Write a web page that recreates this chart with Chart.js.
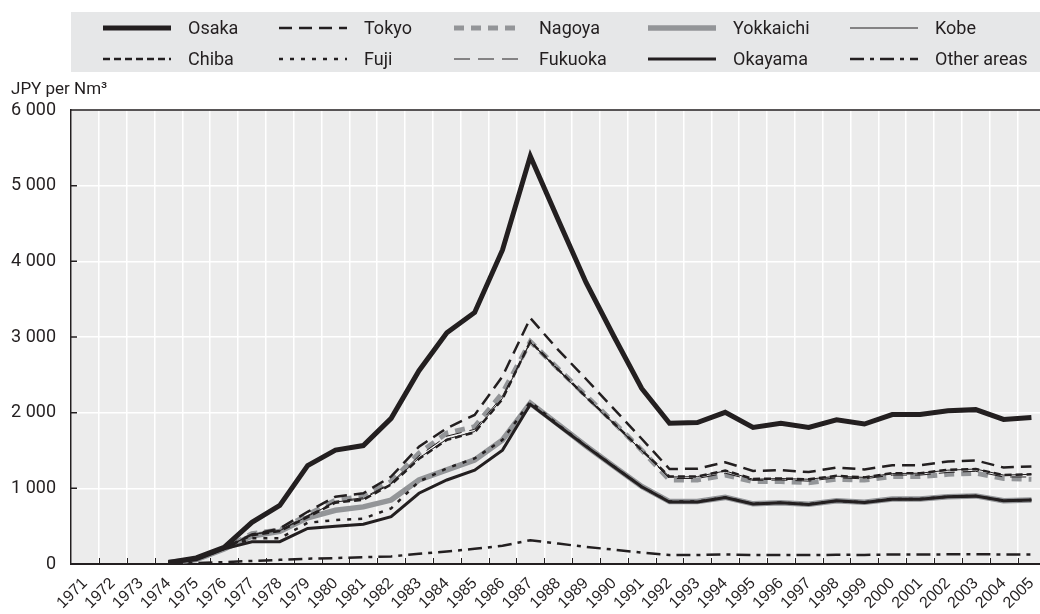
<!DOCTYPE html>
<html>
<head>
<meta charset="utf-8">
<script src="https://cdn.jsdelivr.net/npm/chart.js@4.4.0/dist/chart.umd.min.js"></script>
<style>
  html, body { margin: 0; padding: 0; background: #fff; }
  #wrap { width: 1040px; height: 614px; overflow: hidden; }
</style>
</head>
<body>
<div id="wrap"><canvas id="gasChart" width="1055" height="614"></canvas></div>
<script>
// Categorías (años) y series
const years = ['1971', '1972', '1973', '1974', '1975', '1976', '1977', '1978', '1979', '1980',
    '1981', '1982', '1983', '1984', '1985', '1986', '1987', '1988', '1989', '1990',
    '1991', '1992', '1993', '1994', '1995', '1996', '1997', '1998', '1999', '2000',
    '2001', '2002', '2003', '2004', '2005'];

const osaka = [null, null, null, 20, 80, 220, 550, 775, 1300, 1505, 1565, 1925, 2555, 3055, 3325, 4150, 5390,
    4550, 3720, 3010, 2320, 1860, 1870, 2005, 1805, 1860, 1805, 1905, 1850, 1975, 1975, 2025, 2040, 1910, 1935];
const tokyo = [null, null, null, 20, 70, 210, 390, 470, 690, 890, 935, 1155, 1550, 1795, 1970, 2480, 3250,
    2830, 2445, 2050, 1655, 1255, 1260, 1345, 1230, 1240, 1215, 1275, 1250, 1305, 1305, 1355, 1370, 1275, 1290];
const nagoya = [null, null, null, 20, 60, 205, 400, 450, 650, 845, 890, 1090, 1465, 1730, 1815, 2260, 2940,
    2580, 2225, 1870, 1505, 1110, 1110, 1175, 1090, 1090, 1075, 1120, 1110, 1155, 1155, 1185, 1200, 1130, 1120];
const yokkaichi = [null, null, null, 20, 60, 200, 370, 430, 610, 710, 755, 845, 1110, 1245, 1375, 1640, 2125,
    1845, 1560, 1290, 1025, 825, 825, 880, 795, 810, 790, 835, 815, 860, 860, 890, 900, 835, 845];
const kobe = [null, null, null, 20, 60, 205, 390, 440, 630, 820, 860, 1060, 1400, 1650, 1750, 2190, 2930,
    2560, 2200, 1850, 1500, 1150, 1155, 1230, 1120, 1130, 1120, 1160, 1145, 1195, 1200, 1240, 1255, 1175, 1185];
const chiba = [null, null, null, 20, 65, 210, 380, 435, 620, 810, 850, 1050, 1390, 1640, 1740, 2180, 2940,
    2570, 2210, 1860, 1505, 1155, 1155, 1235, 1125, 1130, 1120, 1165, 1145, 1200, 1200, 1245, 1255, 1175, 1185];
const fuji = [null, null, null, 20, 60, 200, 340, 340, 545, 580, 600, 735, 1090, 1265, 1395, 1640, 2145,
    1840, 1560, 1290, 1020, 825, 825, 880, 795, 810, 790, 835, 815, 860, 860, 890, 900, 835, 845];
const fukuoka = [null, null, null, 20, 60, 205, 395, 445, 640, 830, 875, 1070, 1430, 1690, 1780, 2220, 2935,
    2575, 2215, 1860, 1500, 1130, 1130, 1200, 1105, 1110, 1095, 1140, 1125, 1175, 1175, 1210, 1225, 1150, 1150];
const okayama = [null, null, null, 15, 55, 200, 295, 295, 470, 500, 525, 625, 935, 1110, 1240, 1505, 2110,
    1830, 1555, 1285, 1020, 820, 820, 878, 792, 808, 788, 835, 813, 857, 857, 888, 897, 835, 845];
const otherAreas = [null, null, null, 5, 12, 25, 40, 55, 70, 78, 90, 100, 135, 165, 200, 240, 315,
    270, 225, 190, 150, 120, 120, 125, 120, 118, 118, 122, 120, 125, 125, 128, 130, 125, 125];

const yTicks = [0, 1000, 2000, 3000, 4000, 5000, 6000];

const FONT = "Roboto, 'Liberation Sans', sans-serif";
const INK = '#231f20';
const GREY = '#939598';

function serie(label, data, color, width, dash, order) {
    return {
        label: label,
        data: data,
        borderColor: color,
        borderWidth: width,
        borderDash: dash,
        order: order,
        pointRadius: 0,
        tension: 0,
        fill: false
    };
}

const datasets = [
    serie('Osaka', osaka, INK, 5, [], 0),
    serie('Tokyo', tokyo, INK, 2.5, [13, 7], 1),
    serie('Nagoya', nagoya, GREY, 5, [10, 7], 9),
    serie('Yokkaichi', yokkaichi, GREY, 5.5, [], 8),
    serie('Kobe', kobe, INK, 1, [], 5),
    serie('Chiba', chiba, INK, 2.5, [7, 4], 2),
    serie('Fuji', fuji, INK, 2.5, [4, 7], 4),
    serie('Fukuoka', fukuoka, INK, 1, [16, 8], 6),
    serie('Okayama', okayama, INK, 3, [], 3),
    serie('Other areas', otherAreas, INK, 2.5, [14, 6, 4, 6], 7)
];

// Leyenda en dos filas y cinco columnas
const legendRows = [
    ['Osaka', 'Tokyo', 'Nagoya', 'Yokkaichi', 'Kobe'],
    ['Chiba', 'Fuji', 'Fukuoka', 'Okayama', 'Other areas']
];
const legendCols = [103, 279, 454, 648, 850];
const legendRowY = [28, 59];

const plotFrame = {
    id: 'plotFrame',
    beforeDraw(chart) {
        const { ctx, chartArea: a } = chart;
        ctx.save();
        ctx.fillStyle = '#ececec';
        ctx.fillRect(a.left, a.top, a.right - a.left, a.bottom - a.top);
        ctx.fillStyle = '#e6e7e8';
        ctx.fillRect(71, 12, chart.width - 71, 60);
        ctx.restore();
    },
    afterDraw(chart) {
        const { ctx, chartArea: a, scales } = chart;
        ctx.save();
        ctx.strokeStyle = INK;
        ctx.lineWidth = 1.5;
        ctx.beginPath();
        ctx.moveTo(a.left, a.top);
        ctx.lineTo(a.right, a.top);
        scales.y.ticks.forEach((t, i) => {
            const y = scales.y.getPixelForTick(i);
            ctx.moveTo(a.left, y);
            ctx.lineTo(a.left + 6, y);
        });
        ctx.stroke();
        ctx.lineWidth = 1;
        ctx.beginPath();
        for (let k = 1; k < years.length; k++) {
            const x = Math.round((scales.x.getPixelForTick(k - 1) + scales.x.getPixelForTick(k)) / 2) + 0.5;
            ctx.moveTo(x, a.bottom);
            ctx.lineTo(x, a.bottom - 6);
        }
        ctx.stroke();

        ctx.fillStyle = INK;
        ctx.textBaseline = 'middle';
        ctx.textAlign = 'left';
        ctx.font = '17px ' + FONT;
        ctx.fillText('JPY per Nm³', 11, 90);

        ctx.font = '18px ' + FONT;
        legendRows.forEach((row, r) => {
            row.forEach((name, c) => {
                const ds = chart.data.datasets.find(d => d.label === name);
                const x = legendCols[c];
                const y = legendRowY[r];
                ctx.strokeStyle = ds.borderColor;
                ctx.lineWidth = ds.borderWidth;
                ctx.setLineDash(ds.borderDash);
                ctx.beginPath();
                ctx.moveTo(x, y);
                ctx.lineTo(x + 68, y);
                ctx.stroke();
                ctx.setLineDash([]);
                ctx.fillText(name, x + 85, y + 1);
            });
        });
        ctx.restore();
    }
};

new Chart(document.getElementById('gasChart'), {
    type: 'line',
    data: { labels: years, datasets: datasets },
    options: {
        responsive: false,
        animation: false,
        devicePixelRatio: 1,
        layout: { padding: { top: 110, left: 0, right: 0, bottom: 0 } },
        plugins: { legend: { display: false }, tooltip: { enabled: false } },
        scales: {
            x: {
                offset: true,
                grid: { offset: true, color: '#ffffff', lineWidth: 1.5, drawTicks: false },
                border: { color: INK, width: 2 },
                ticks: {
                    autoSkip: false,
                    maxRotation: 45,
                    minRotation: 45,
                    padding: 10,
                    color: INK,
                    font: { family: "'Liberation Sans', Arial, sans-serif", size: 16 }
                },
                afterFit(s) { s.height = 50; }
            },
            y: {
                min: 0,
                max: 6000,
                afterBuildTicks(s) { s.ticks = yTicks.map(v => ({ value: v })); },
                grid: { color: '#ffffff', lineWidth: 1.5, drawTicks: false },
                border: { color: INK, width: 1.5 },
                ticks: {
                    padding: 15,
                    color: INK,
                    font: { family: FONT, size: 18 },
                    callback: v => v === 0 ? '0' : String(v).replace(/\B(?=(\d{3})+(?!\d))/g, ' ')
                },
                afterFit(s) { s.width = 71; }
            }
        }
    },
    plugins: [plotFrame]
});
</script>
</body>
</html>
